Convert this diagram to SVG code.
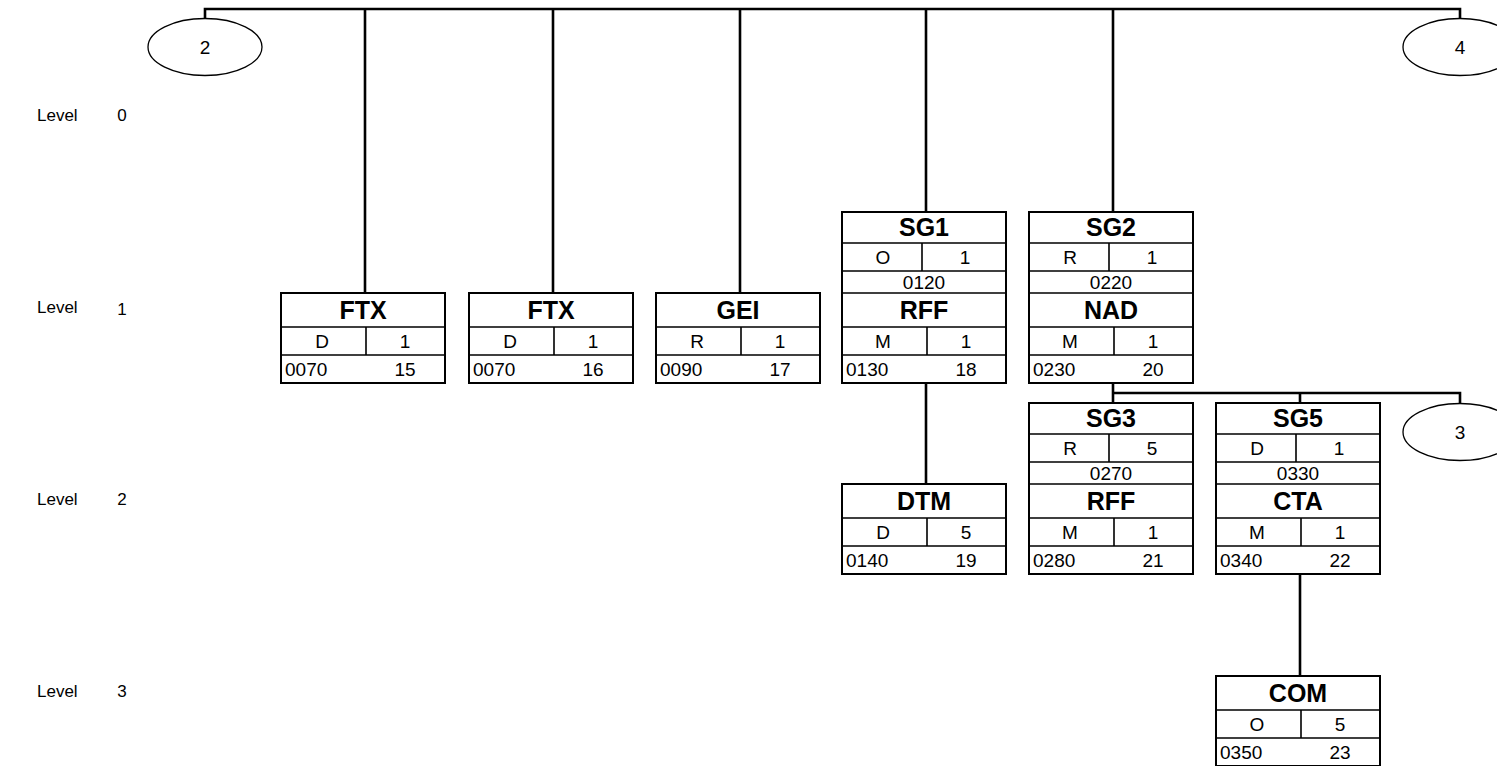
<svg xmlns="http://www.w3.org/2000/svg" width="1497" height="766" viewBox="0 0 1497 766">
<style>
text{font-family:"Liberation Sans",Arial,sans-serif;fill:#000}
.h{font-size:25px;font-weight:bold;text-anchor:middle}
.c{font-size:19px;text-anchor:middle}
.s{font-size:19px;text-anchor:start}
.lv{font-size:17px}
.box{fill:#fff;stroke:#000;stroke-width:2}
.in{stroke:#000;stroke-width:1.6}
.con{fill:none;stroke:#000;stroke-width:2.6}
.ell{fill:#fff;stroke:#000;stroke-width:1.3}
</style>
<rect width="1497" height="766" fill="#fff"/>
<g id="levels">
<text class="lv" x="37" y="121">Level</text><text class="lv" x="122" y="121" text-anchor="middle">0</text>
<text class="lv" x="37" y="313">Level</text><text class="lv" x="122" y="315" text-anchor="middle">1</text>
<text class="lv" x="37" y="505">Level</text><text class="lv" x="122" y="505" text-anchor="middle">2</text>
<text class="lv" x="37" y="697">Level</text><text class="lv" x="122" y="697" text-anchor="middle">3</text>
</g>
<g id="connectors">
<path class="con" d="M205 18V9H1460V18"/>
<path class="con" d="M365 9V293M553 9V293M740 9V293M926 9V212M1113 9V212"/>
<path class="con" d="M926 383V484"/>
<path class="con" d="M1113 383V403M1113 393H1460V403M1300 393V403"/>
<path class="con" d="M1300 574V676"/>
</g>
<g id="conn2"><ellipse class="ell" cx="205" cy="47" rx="57" ry="28.5"/><text class="c" x="205" y="54">2</text></g>
<g id="conn4"><ellipse class="ell" cx="1460" cy="47" rx="57" ry="28.5"/><text class="c" x="1460" y="54">4</text></g>
<g id="conn3"><ellipse class="ell" cx="1460" cy="432" rx="57" ry="28.5"/><text class="c" x="1460" y="439">3</text></g>

<g id="ftx1" transform="translate(281,293)">
<rect class="box" width="164" height="90"/><path class="in" d="M0 34H164M0 62H164M85 34V62"/>
<text class="h" x="82" y="26">FTX</text><text class="c" x="41" y="55">D</text><text class="c" x="124" y="55">1</text>
<text class="s" x="4" y="83">0070</text><text class="c" x="124" y="83">15</text>
</g>
<g id="ftx2" transform="translate(469,293)">
<rect class="box" width="164" height="90"/><path class="in" d="M0 34H164M0 62H164M85 34V62"/>
<text class="h" x="82" y="26">FTX</text><text class="c" x="41" y="55">D</text><text class="c" x="124" y="55">1</text>
<text class="s" x="4" y="83">0070</text><text class="c" x="124" y="83">16</text>
</g>
<g id="gei" transform="translate(656,293)">
<rect class="box" width="164" height="90"/><path class="in" d="M0 34H164M0 62H164M85 34V62"/>
<text class="h" x="82" y="26">GEI</text><text class="c" x="41" y="55">R</text><text class="c" x="124" y="55">1</text>
<text class="s" x="4" y="83">0090</text><text class="c" x="124" y="83">17</text>
</g>
<g id="sg1" transform="translate(842,293)">
<rect class="box" y="-81" width="164" height="171"/><path class="in" d="M0 -50H164M0 -22H164M0 0H164M80 -50V-22M0 34H164M0 62H164M85 34V62"/>
<text class="h" x="82" y="-57">SG1</text><text class="c" x="41" y="-29">O</text><text class="c" x="123" y="-29">1</text>
<text class="c" x="82" y="-4">0120</text>
<text class="h" x="82" y="26">RFF</text><text class="c" x="41" y="55">M</text><text class="c" x="124" y="55">1</text>
<text class="s" x="4" y="83">0130</text><text class="c" x="124" y="83">18</text>
</g>
<g id="sg2" transform="translate(1029,293)">
<rect class="box" y="-81" width="164" height="171"/><path class="in" d="M0 -50H164M0 -22H164M0 0H164M80 -50V-22M0 34H164M0 62H164M85 34V62"/>
<text class="h" x="82" y="-57">SG2</text><text class="c" x="41" y="-29">R</text><text class="c" x="123" y="-29">1</text>
<text class="c" x="82" y="-4">0220</text>
<text class="h" x="82" y="26">NAD</text><text class="c" x="41" y="55">M</text><text class="c" x="124" y="55">1</text>
<text class="s" x="4" y="83">0230</text><text class="c" x="124" y="83">20</text>
</g>
<g id="dtm" transform="translate(842,484)">
<rect class="box" width="164" height="90"/><path class="in" d="M0 34H164M0 62H164M85 34V62"/>
<text class="h" x="82" y="26">DTM</text><text class="c" x="41" y="55">D</text><text class="c" x="124" y="55">5</text>
<text class="s" x="4" y="83">0140</text><text class="c" x="124" y="83">19</text>
</g>
<g id="sg3" transform="translate(1029,484)">
<rect class="box" y="-81" width="164" height="171"/><path class="in" d="M0 -50H164M0 -22H164M0 0H164M80 -50V-22M0 34H164M0 62H164M85 34V62"/>
<text class="h" x="82" y="-57">SG3</text><text class="c" x="41" y="-29">R</text><text class="c" x="123" y="-29">5</text>
<text class="c" x="82" y="-4">0270</text>
<text class="h" x="82" y="26">RFF</text><text class="c" x="41" y="55">M</text><text class="c" x="124" y="55">1</text>
<text class="s" x="4" y="83">0280</text><text class="c" x="124" y="83">21</text>
</g>
<g id="sg5" transform="translate(1216,484)">
<rect class="box" y="-81" width="164" height="171"/><path class="in" d="M0 -50H164M0 -22H164M0 0H164M80 -50V-22M0 34H164M0 62H164M85 34V62"/>
<text class="h" x="82" y="-57">SG5</text><text class="c" x="41" y="-29">D</text><text class="c" x="123" y="-29">1</text>
<text class="c" x="82" y="-4">0330</text>
<text class="h" x="82" y="26">CTA</text><text class="c" x="41" y="55">M</text><text class="c" x="124" y="55">1</text>
<text class="s" x="4" y="83">0340</text><text class="c" x="124" y="83">22</text>
</g>
<g id="com" transform="translate(1216,676)">
<rect class="box" width="164" height="90"/><path class="in" d="M0 34H164M0 62H164M85 34V62"/>
<text class="h" x="82" y="26">COM</text><text class="c" x="41" y="55">O</text><text class="c" x="124" y="55">5</text>
<text class="s" x="4" y="83">0350</text><text class="c" x="124" y="83">23</text>
</g>
</svg>
